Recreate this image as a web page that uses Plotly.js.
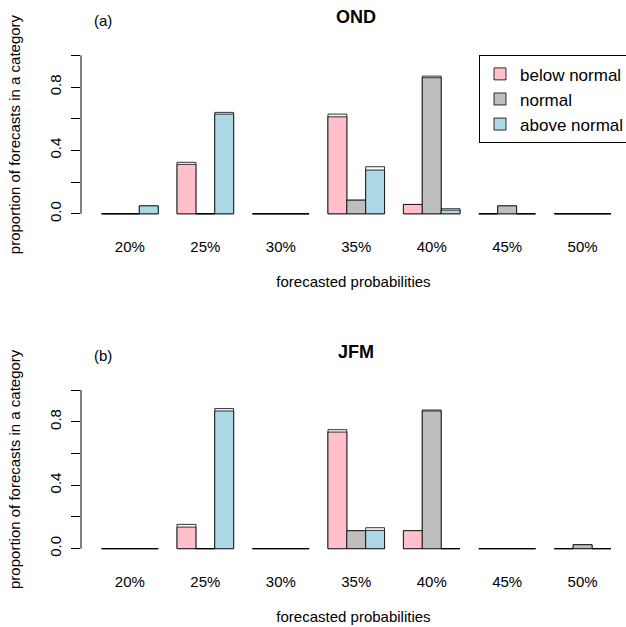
<!DOCTYPE html>
<html>
<head>
<meta charset="utf-8">
<script src="https://cdn.plot.ly/plotly-3.0.1.min.js"></script>
<style>html,body{margin:0;padding:0;background:#fff;}#chart{width:626px;height:627px;}</style>
</head>
<body>
<div id="chart"></div>
<script>
// ---- data ----
var categories = ["20%", "25%", "30%", "35%", "40%", "45%", "50%"];
var seriesNames = ["below normal", "normal", "above normal"];

// OND panel (a): filled bars and the slightly taller outline bars
var ondBelow       = [0.000, 0.312, 0.000, 0.612, 0.059, 0.000, 0.000];
var ondNormal      = [0.000, 0.000, 0.000, 0.086, 0.859, 0.050, 0.000];
var ondAbove       = [0.050, 0.629, 0.000, 0.276, 0.023, 0.000, 0.000];
var ondBelowOuter  = [0.000, 0.325, 0.000, 0.629, 0.059, 0.000, 0.000];
var ondNormalOuter = [0.000, 0.000, 0.000, 0.086, 0.869, 0.050, 0.000];
var ondAboveOuter  = [0.050, 0.640, 0.000, 0.297, 0.032, 0.000, 0.000];

// JFM panel (b)
var jfmBelow       = [0.000, 0.136, 0.000, 0.735, 0.113, 0.000, 0.000];
var jfmNormal      = [0.000, 0.000, 0.000, 0.113, 0.868, 0.000, 0.025];
var jfmAbove       = [0.000, 0.868, 0.000, 0.115, 0.000, 0.000, 0.000];
var jfmBelowOuter  = [0.000, 0.153, 0.000, 0.750, 0.113, 0.000, 0.000];
var jfmNormalOuter = [0.000, 0.000, 0.000, 0.113, 0.874, 0.000, 0.025];
var jfmAboveOuter  = [0.000, 0.883, 0.000, 0.132, 0.000, 0.000, 0.000];

var yTickVals = [0, 0.2, 0.4, 0.6, 0.8, 1.0];
var yTickText = ["0.0", "", "0.4", "", "0.8", ""];

// ---- styles ----
var colors = ["#FFC0CB", "#BEBEBE", "#ADD8E6"];
var offsets = [-0.375, -0.125, 0.125];
var edge = "rgba(0,0,0,0.8)";
var FONT = "Liberation Sans, Arial, Helvetica, sans-serif";

function makeTraces(inner, outer, xa, ya, showLegend) {
  var t = [];
  for (var i = 0; i < 3; i++) {
    t.push({
      type: "bar", x: categories, y: outer[i], xaxis: xa, yaxis: ya,
      width: 0.25, offset: offsets[i],
      marker: {color: "rgba(255,255,255,0)", line: {color: edge, width: 1}},
      showlegend: false, hoverinfo: "skip"
    });
  }
  for (var j = 0; j < 3; j++) {
    t.push({
      type: "bar", x: categories, y: inner[j], xaxis: xa, yaxis: ya,
      width: 0.25, offset: offsets[j], name: seriesNames[j],
      marker: {color: colors[j], line: {color: edge, width: 1}},
      showlegend: showLegend
    });
  }
  return t;
}

var data = []
  .concat(makeTraces([ondBelow, ondNormal, ondAbove], [ondBelowOuter, ondNormalOuter, ondAboveOuter], "x", "y", true))
  .concat(makeTraces([jfmBelow, jfmNormal, jfmAbove], [jfmBelowOuter, jfmNormalOuter, jfmAboveOuter], "x2", "y2", false));

function xAxis(anchor) {
  return {
    anchor: anchor, domain: [0, 1], type: "category", range: [-0.648, 6.575],
    showgrid: false, zeroline: false, showline: false,
    ticks: "outside", ticklen: 13, tickcolor: "rgba(0,0,0,0)",
    tickfont: {family: FONT, size: 15, color: "#000"},
    title: {text: "forecasted probabilities", font: {family: FONT, size: 15, color: "#000"}, standoff: 22},
    automargin: false
  };
}
function yAxis(anchor, domain) {
  return {
    anchor: anchor, domain: domain, range: [-0.04, 1.04],
    tickmode: "array", tickvals: yTickVals, ticktext: yTickText, tickangle: -90,
    ticks: "outside", ticklen: 9, tickcolor: "#000", tickwidth: 1,
    ticklabelstandoff: 4,
    showgrid: false, zeroline: false, showline: false,
    tickfont: {family: FONT, size: 15, color: "#000"},
    title: {text: "proportion of forecasts in a category", font: {family: FONT, size: 15, color: "#000"}, standoff: 22},
    automargin: false
  };
}

var layout = {
  width: 626, height: 627,
  margin: {l: 81, r: 0, t: 49, b: 72, pad: 0, autoexpand: false},
  paper_bgcolor: "#fff", plot_bgcolor: "#fff",
  barmode: "overlay",
  font: {family: FONT, size: 15, color: "#000"},
  xaxis: xAxis("y"),
  yaxis: yAxis("x", [0.6618, 1]),
  xaxis2: xAxis("y2"),
  yaxis2: yAxis("x2", [0, 0.3386]),
  showlegend: true,
  legend: {
    x: 0.7303, y: 0.9875, xanchor: "left", yanchor: "top",
    bordercolor: "#000", borderwidth: 1, bgcolor: "#fff",
    font: {family: FONT, size: 17, color: "#000"},
    tracegroupgap: 0
  },
  shapes: [
    {type: "line", xref: "paper", yref: "y", x0: 0, x1: 0, y0: 0, y1: 1, line: {color: "#000", width: 1}},
    {type: "line", xref: "paper", yref: "y2", x0: 0, x1: 0, y0: 0, y1: 1, line: {color: "#000", width: 1}}
  ],
  annotations: [
    {text: "<b>OND</b>", xref: "paper", yref: "paper", x: 0.5046, y: 1.0623, xanchor: "center", yanchor: "middle", showarrow: false, font: {family: FONT, size: 18, color: "#000"}},
    {text: "<b>JFM</b>", xref: "paper", yref: "paper", x: 0.5046, y: 0.4011, xanchor: "center", yanchor: "middle", showarrow: false, font: {family: FONT, size: 18, color: "#000"}},
    {text: "(a)", xref: "paper", yref: "paper", x: 0.0196, y: 1.0554, xanchor: "left", yanchor: "middle", showarrow: false, font: {family: FONT, size: 15, color: "#000"}},
    {text: "(b)", xref: "paper", yref: "paper", x: 0.0196, y: 0.3942, xanchor: "left", yanchor: "middle", showarrow: false, font: {family: FONT, size: 15, color: "#000"}}
  ]
};

Plotly.newPlot("chart", data, layout, {staticPlot: true, displayModeBar: false});
</script>
</body>
</html>
